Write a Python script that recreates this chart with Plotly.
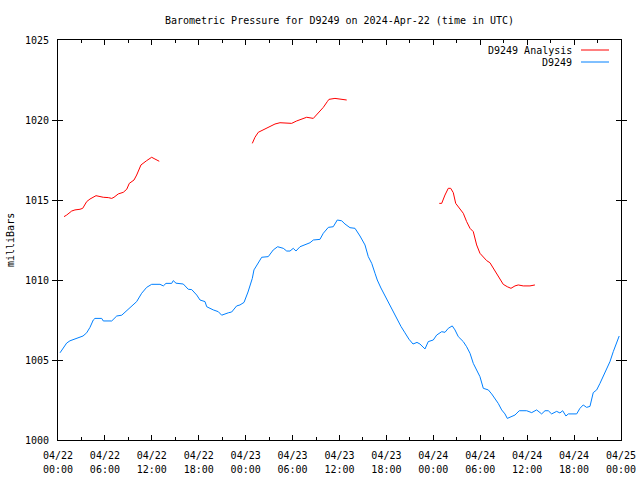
import plotly.graph_objects as go

# Hours since 2024-04-22 00:00 UTC
station_hours = [0.26, 0.9, 1.11, 1.53, 2.39, 3.2, 3.67, 4.09, 4.51, 4.73, 5.59, 5.79, 6.87, 7.51, 8.15,
                 8.79, 9.42, 10.06, 10.7, 11.34, 11.98, 13.04, 13.47, 13.81, 14.54, 14.74, 15.09, 16.02,
                 16.66, 17.1, 17.74, 18.16, 18.8, 19.02, 19.86, 20.5, 20.93, 21.36, 21.78, 22.21, 22.85,
                 23.27, 23.79, 24.3, 24.85, 25.06, 25.41, 26.05, 26.89, 27.53, 28.09, 28.81, 29.25, 29.67,
                 30.09, 30.43, 30.95, 31.59, 32.23, 32.65, 33.5, 33.93, 34.57, 35.2, 35.72, 36.28, 36.7,
                 37.34, 37.98, 38.62, 39.26, 39.68, 40.12, 40.54, 40.83, 41.3, 41.82, 42.33, 42.84, 43.35,
                 43.86, 44.37, 44.88, 45.4, 45.91, 46.29, 46.93, 47.35, 47.99, 48.43, 49.07, 49.49, 49.91,
                 50.42, 50.77, 51.19, 51.83, 52.26, 52.69, 53.11, 53.54, 53.96, 54.39, 55.03, 55.46, 55.88,
                 56.3, 56.74, 57.16, 57.46, 58.02, 58.44, 58.99, 59.94, 60.58, 61.21, 61.85, 62.28, 62.7,
                 63.13, 63.77, 64.19, 64.54, 64.96, 65.26, 66.33, 66.75, 67.17, 67.6, 68.03, 68.45, 68.89,
                 69.31, 69.73, 70.17, 70.59, 71.01, 71.44, 71.77]
station_mb = [1005.45, 1005.9, 1006.06, 1006.2, 1006.35, 1006.5, 1006.7, 1007.04, 1007.5, 1007.6, 1007.6,
              1007.44, 1007.44, 1007.75, 1007.8, 1008.08, 1008.33, 1008.65, 1009.17, 1009.54, 1009.73,
              1009.73, 1009.63, 1009.79, 1009.79, 1009.96, 1009.8, 1009.75, 1009.42, 1009.4, 1009.06,
              1008.75, 1008.65, 1008.33, 1008.13, 1008.02, 1007.8, 1007.9, 1007.95, 1008.0, 1008.38,
              1008.44, 1008.6, 1009.25, 1010.1, 1010.63, 1010.94, 1011.42, 1011.46, 1011.88, 1012.08,
              1011.98, 1011.81, 1011.81, 1011.98, 1011.81, 1012.08, 1012.23, 1012.33, 1012.5, 1012.54,
              1012.92, 1013.29, 1013.33, 1013.75, 1013.7, 1013.5, 1013.27, 1013.23, 1012.75, 1012.19,
              1011.46, 1011.04, 1010.42, 1010.0, 1009.5, 1009.0, 1008.5, 1008.1, 1007.6, 1007.1, 1006.7,
              1006.3, 1006.0, 1006.1, 1006.0, 1005.69, 1006.15, 1006.25, 1006.56, 1006.77, 1006.73,
              1006.98, 1007.13, 1006.88, 1006.46, 1006.15, 1005.83, 1005.42, 1004.79, 1004.38, 1003.96,
              1003.23, 1003.13, 1002.88, 1002.6, 1002.29, 1001.88, 1001.63, 1001.35, 1001.46, 1001.56,
              1001.83, 1001.83, 1001.71, 1001.88, 1001.63, 1001.83, 1001.83, 1001.63, 1001.79, 1001.69,
              1001.83, 1001.5, 1001.63, 1001.63, 1001.98, 1002.19, 1002.04, 1002.1, 1002.96, 1003.13,
              1003.54, 1003.96, 1004.38, 1004.9, 1005.52, 1006.15, 1006.5]

analysis_hours = [0.77, 1.11, 1.75, 2.17, 2.81, 3.16, 3.67, 4.09, 4.86, 5.37, 5.79, 6.43, 6.87, 7.16, 7.71,
                  8.35, 8.79, 9.12, 9.72, 10.06, 10.61, 11.34, 11.98, 12.4, 12.95, 18.0,
                  24.85, 25.19, 25.61, 26.25, 27.11, 27.75, 28.39, 29.25, 29.88, 30.52, 31.16, 31.8, 32.65,
                  33.29, 33.93, 34.44, 34.65, 35.42, 36.06, 36.92, 42.0,
                  48.76, 49.07, 49.49, 49.91, 50.22, 50.55, 50.86, 51.41, 51.83, 52.26, 52.69, 53.11, 53.54,
                  53.96, 54.39, 54.82, 55.24, 55.67, 56.1, 56.52, 56.94, 57.46, 57.93, 58.44, 58.86, 59.5,
                  60.36, 60.99]
analysis_mb = [1013.96, 1014.06, 1014.31, 1014.38, 1014.42, 1014.48, 1014.9, 1015.06, 1015.27, 1015.21,
               1015.17, 1015.15, 1015.1, 1015.17, 1015.38, 1015.48, 1015.67, 1016.04, 1016.25, 1016.56,
               1017.19, 1017.46, 1017.67, 1017.56, 1017.42, None,
               1018.54, 1018.92, 1019.23, 1019.38, 1019.58, 1019.75, 1019.83, 1019.83, 1019.79, 1019.94,
               1020.04, 1020.17, 1020.1, 1020.46, 1020.79, 1021.15, 1021.29, 1021.35, 1021.31, 1021.25, None,
               1014.79, 1014.79, 1015.31, 1015.73, 1015.73, 1015.46, 1014.79, 1014.42, 1014.17, 1013.65,
               1013.23, 1013.02, 1012.19, 1011.67, 1011.42, 1011.21, 1011.08, 1010.73, 1010.38, 1010.0,
               1009.73, 1009.58, 1009.48, 1009.63, 1009.69, 1009.63, 1009.63, 1009.69]

x_tick_vals = [0, 6, 12, 18, 24, 30, 36, 42, 48, 54, 60, 66, 72]
x_tick_dates = ["04/22", "04/22", "04/22", "04/22", "04/23", "04/23", "04/23", "04/23",
                "04/24", "04/24", "04/24", "04/24", "04/25"]
x_tick_times = ["00:00", "06:00", "12:00", "18:00", "00:00", "06:00", "12:00", "18:00",
                "00:00", "06:00", "12:00", "18:00", "00:00"]
y_tick_vals = [1000, 1005, 1010, 1015, 1020, 1025]

series_names = ["D9249 Analysis", "D9249"]
series_colors = ["#ff0000", "#0080ff"]

FONT = "DejaVu Sans Mono"

fig = go.Figure()
fig.add_trace(go.Scatter(x=analysis_hours, y=analysis_mb, mode="lines", connectgaps=False,
                         line=dict(color=series_colors[0], width=1), name=series_names[0],
                         showlegend=False))
fig.add_trace(go.Scatter(x=station_hours, y=station_mb, mode="lines",
                         line=dict(color=series_colors[1], width=1), name=series_names[1],
                         showlegend=False))

L, R, T, B = 58, 19, 40, 40
PW = 640 - L - R
fig.update_layout(
    width=640, height=480,
    margin=dict(l=L, r=R, t=T, b=B, pad=0),
    paper_bgcolor="white", plot_bgcolor="white",
    font=dict(family=FONT, size=10, color="black"),
    showlegend=False,
    xaxis=dict(range=[0, 72], tickmode="array", tickvals=x_tick_vals, ticktext=x_tick_dates,
               ticks="inside", ticklen=5, tickcolor="black", showgrid=False, zeroline=False,
               showline=True, linecolor="black", linewidth=1, mirror="allticks", automargin=False,
               ticklabelstandoff=6,
               minor=dict(ticks="inside", ticklen=3, dtick=3, tick0=0, tickcolor="black", showgrid=False),
               tickfont=dict(family=FONT, size=10)),
    xaxis2=dict(range=[0, 72], overlaying="x", anchor="y", side="bottom", tickmode="array",
                tickvals=x_tick_vals, ticktext=x_tick_times, ticks="", showline=False,
                showgrid=False, zeroline=False, automargin=False, ticklabelstandoff=22,
                tickfont=dict(family=FONT, size=10)),
    yaxis=dict(range=[1000, 1025], tickmode="array", tickvals=y_tick_vals,
               ticks="inside", ticklen=5, tickcolor="black", showgrid=False, zeroline=False,
               showline=True, linecolor="black", linewidth=1, mirror="allticks", automargin=False,
               ticklabelstandoff=6,
               tickfont=dict(family=FONT, size=10)),
    title=dict(text="Barometric Pressure for D9249 on 2024-Apr-22 (time in UTC)",
               x=0.5, xref="paper", xanchor="center", y=1 - 20 / 480, yref="container",
               yanchor="middle", font=dict(family=FONT, size=10, color="black")),
)

# invisible trace to activate the second x axis (time-of-day labels)
fig.add_trace(go.Scatter(x=[x_tick_vals[0]], y=[y_tick_vals[0]], xaxis="x2", mode="markers",
                         marker=dict(opacity=0), hoverinfo="skip", showlegend=False))

# y-axis label
fig.add_annotation(text="milliBars", textangle=-90, xref="paper", yref="paper",
                   x=(10 - L) / PW, y=0.5, xanchor="center", yanchor="middle",
                   showarrow=False, font=dict(family=FONT, size=10, color="black"))

# gnuplot-style key: text on the left, sample line on the right
key_rows = [(50, 0), (62, 1)]
for ypix, i in key_rows:
    yp = (440 - ypix) / 400
    fig.add_annotation(text=series_names[i], xref="paper", yref="paper",
                       x=(574 - L) / PW, y=yp, xanchor="right", yanchor="middle",
                       showarrow=False, font=dict(family=FONT, size=10, color="black"))
    fig.add_shape(type="line", xref="paper", yref="paper",
                  x0=(581 - L) / PW, x1=(609 - L) / PW, y0=yp, y1=yp,
                  line=dict(color=series_colors[i], width=1))

fig.write_html("out.html")
